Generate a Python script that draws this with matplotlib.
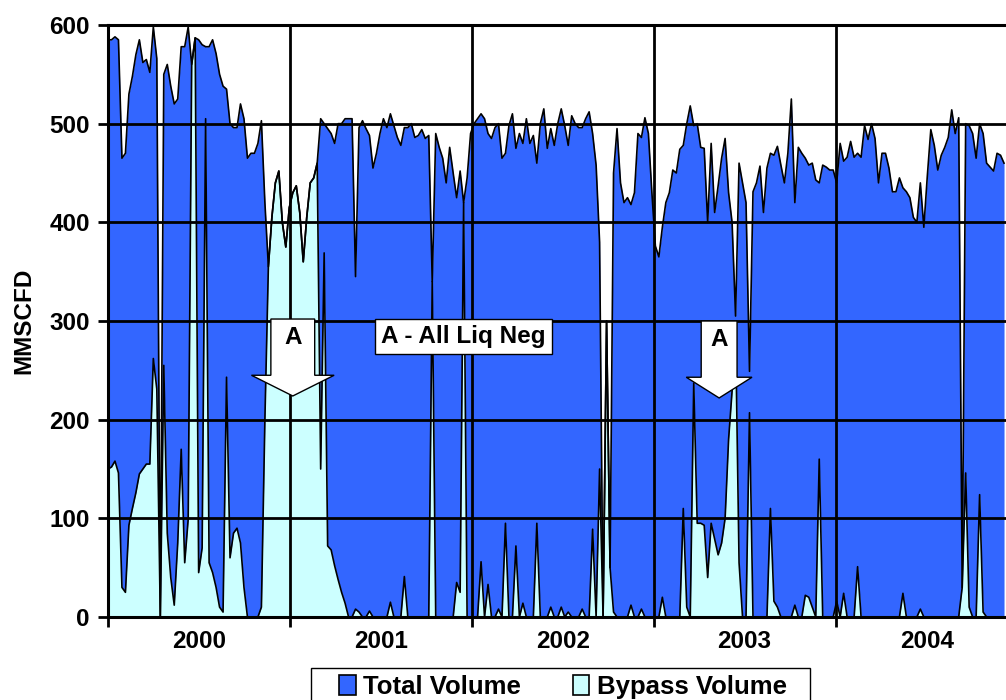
import numpy as np
import pandas as pd
import matplotlib
matplotlib.use("Agg")
import matplotlib.pyplot as plt
import matplotlib.dates as mdates
from matplotlib.patches import Polygon, Patch, Rectangle

plt.rcParams['font.family'] = ['Liberation Sans', 'DejaVu Sans']
plt.rcParams['font.weight'] = 'bold'

# Weekly values (MMSCFD), starting 2000-01-01
total = [
    585, 585, 588, 585, 465, 470, 530, 548, 570, 585,
    562, 565, 552, 598, 566, 0, 550, 560, 538, 520,
    525, 578, 578, 598, 560, 587, 585, 580, 578, 578,
    585, 571, 550, 538, 535, 500, 496, 496, 520, 505,
    465, 470, 470, 480, 503, 420, 355, 405, 440, 452,
    400, 375, 415, 430, 437, 410, 360, 405, 440, 445,
    460, 505, 500, 495, 490, 480, 500, 500, 505, 505,
    505, 345, 496, 503, 495, 488, 455, 470, 490, 505,
    496, 510, 498, 486, 478, 496, 496, 500, 486, 488,
    494, 485, 488, 340, 490, 476, 465, 440, 476, 450,
    425, 452, 420, 445, 490, 500, 505, 510, 505, 490,
    485, 496, 500, 465, 470, 498, 510, 475, 490, 480,
    505, 480, 488, 460, 500, 515, 475, 495, 478, 500,
    515, 498, 478, 508, 500, 496, 496, 505, 512, 490,
    458, 380, 0, 300, 50, 450, 495, 440, 420, 425,
    418, 430, 490, 486, 506, 490, 430, 376, 365, 395,
    420, 430, 453, 450, 474, 478, 500, 518, 498, 500,
    476, 475, 400, 480, 410, 437, 465, 485, 430, 400,
    305, 460, 440, 420, 249, 431, 440, 457, 410, 455,
    470, 468, 477, 458, 440, 470, 525, 420, 476, 470,
    465, 458, 460, 443, 440, 458, 456, 453, 453, 440,
    480, 462, 466, 482, 466, 470, 466, 498, 484, 500,
    485, 440, 470, 470, 455, 431, 431, 445, 435, 431,
    425, 405, 400, 440, 395, 447, 494, 478, 453, 468,
    476, 486, 514, 490, 506, 30, 500, 498, 490, 465,
    500, 490, 460, 456, 452, 470, 468, 460,
]
bypass = [
    150, 152, 158, 146, 30, 25, 93, 110, 126, 145,
    150, 155, 155, 262, 231, 0, 255, 85, 40, 12,
    75, 170, 55, 99, 560, 587, 45, 70, 505, 55,
    45, 30, 10, 5, 243, 60, 85, 90, 75, 30,
    0, 0, 0, 0, 10, 200, 355, 405, 440, 452,
    400, 375, 415, 430, 437, 410, 360, 405, 440, 445,
    460, 150, 369, 72, 68, 52, 38, 25, 14, 0,
    0, 8, 5, 0, 0, 6, 0, 0, 0, 0,
    0, 15, 0, 0, 0, 41, 0, 0, 0, 0,
    0, 0, 0, 340, 0, 0, 0, 0, 0, 0,
    35, 25, 420, 0, 0, 0, 0, 56, 0, 33,
    0, 0, 8, 0, 95, 0, 0, 72, 0, 14,
    0, 0, 0, 95, 0, 0, 0, 10, 0, 0,
    10, 0, 5, 0, 0, 0, 8, 0, 0, 89,
    0, 150, 0, 300, 50, 5, 0, 0, 0, 0,
    12, 0, 0, 8, 0, 0, 0, 0, 0, 20,
    0, 0, 0, 0, 0, 110, 10, 0, 237, 95,
    95, 93, 40, 95, 79, 63, 75, 100, 180, 229,
    290, 55, 0, 0, 207, 0, 0, 0, 0, 0,
    110, 16, 10, 0, 0, 0, 0, 12, 0, 0,
    22, 20, 10, 0, 160, 0, 0, 0, 0, 16,
    0, 24, 0, 0, 0, 51, 0, 0, 0, 0,
    0, 0, 0, 0, 0, 0, 0, 0, 24, 0,
    0, 0, 0, 8, 0, 0, 0, 0, 0, 0,
    0, 0, 0, 0, 0, 30, 146, 10, 0, 0,
    124, 5, 0, 0, 0, 0, 0, 0,
]
years = ['2000', '2001', '2002', '2003', '2004']
series_names = ['Total Volume', 'Bypass Volume']
ylabel = 'MMSCFD'

dates = pd.date_range('2000-01-01', periods=len(total), freq='7D')

W, H = 1006, 700
FS = 17.5
fig = plt.figure(figsize=(W / 100, H / 100), dpi=100)
ax = fig.add_axes([108 / W, (H - 617) / H, (1006 - 108) / W + 0.002, (617 - 25) / H])

c_total = '#3366FF'
c_bypass = '#CCFFFF'
ax.fill_between(dates, total, 0, color=c_total, lw=0, zorder=1)
ax.plot(dates, total, color='black', lw=1.2, zorder=2)
ax.fill_between(dates, bypass, 0, color=c_bypass, lw=0, zorder=1.5)
ax.plot(dates, bypass, color='black', lw=1.2, zorder=2)

ax.set_xlim(pd.Timestamp('2000-01-01'), pd.Timestamp('2004-12-12'))
ax.set_ylim(0, 600)

# grid on top of areas
ax.set_axisbelow(False)
ax.set_yticks(range(0, 601, 100))
ax.xaxis.set_major_locator(mdates.YearLocator())
ax.xaxis.set_major_formatter(plt.NullFormatter())
ax.xaxis.set_minor_locator(mdates.MonthLocator(bymonth=7, bymonthday=2))
ax.xaxis.set_minor_formatter(plt.FuncFormatter(lambda v, p: mdates.num2date(v).strftime('%Y')))
ax.grid(True, which='major', color='black', lw=2)
ax.tick_params(axis='x', which='minor', length=0, pad=9, labelsize=FS)
ax.tick_params(axis='x', which='major', length=7, width=2, direction='out')
ax.tick_params(axis='y', length=7, width=2, direction='out', labelsize=FS, pad=6)
for lab in ax.get_xticklabels(minor=True) + ax.get_yticklabels():
    lab.set_fontweight('bold')

for s in ['left', 'bottom', 'top']:
    ax.spines[s].set_linewidth(2.2)
    ax.spines[s].set_color('black')
ax.spines['right'].set_visible(False)

ax.set_ylabel(ylabel, fontsize=FS, fontweight='bold', labelpad=10)

# block arrows labelled "A"
def block_arrow(xc_date, y_top, y_base, y_tip, bw_days, hw_days):
    xc = mdates.date2num(pd.Timestamp(xc_date))
    pts = [(xc - bw_days, y_top), (xc + bw_days, y_top), (xc + bw_days, y_base),
           (xc + hw_days, y_base), (xc, y_tip), (xc - hw_days, y_base),
           (xc - bw_days, y_base)]
    ax.add_patch(Polygon(pts, closed=True, facecolor='white', edgecolor='black',
                         lw=1.0, zorder=5))
    ax.text(xc, y_top - 19, 'A', ha='center', va='center', fontsize=FS,
            fontweight='bold', zorder=6)

block_arrow('2001-01-06', 302, 245, 224, 44, 83)
block_arrow('2003-05-12', 300, 243, 222, 36, 66)

ax.text(mdates.date2num(pd.Timestamp('2001-12-15')), 284, 'A - All Liq Neg',
        ha='center', va='center', fontsize=FS, fontweight='bold', zorder=6,
        bbox=dict(boxstyle='square,pad=0.25', facecolor='white', edgecolor='black', lw=1.0))

# legend: frame drawn as a box that runs off the bottom edge, as in the reference
fig.patches.append(Rectangle((311 / W, -0.02), (810 - 311) / W, 0.02 + (H - 668) / H,
                             transform=fig.transFigure, facecolor='white',
                             edgecolor='black', lw=1.0, zorder=0))
handles = [Patch(facecolor=c_total, edgecolor='black', lw=1.2),
           Patch(facecolor=c_bypass, edgecolor='black', lw=1.2)]
leg = fig.legend(handles, series_names, loc='center',
                 bbox_to_anchor=(563 / W, 1 - 687 / H), ncol=2, frameon=False,
                 prop={'weight': 'bold', 'size': 18.5}, handlelength=0.65,
                 handleheight=0.85, handletextpad=0.3, columnspacing=2.0,
                 borderpad=0.0, borderaxespad=0.0)

fig.savefig('out.png', dpi=100)
